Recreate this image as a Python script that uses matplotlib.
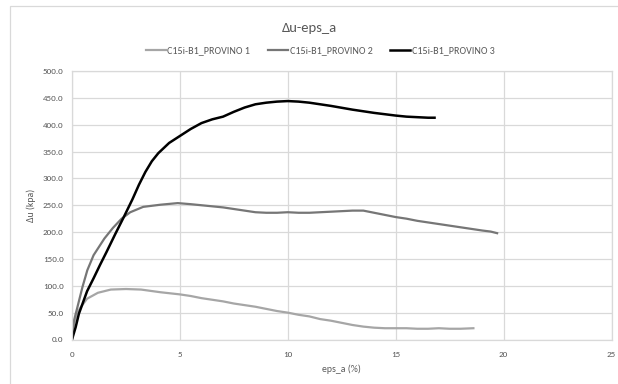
import matplotlib
matplotlib.use("Agg")
import matplotlib.pyplot as plt
from matplotlib.patches import Rectangle
from matplotlib.ticker import FormatStrFormatter

plt.rcParams['font.family'] = ['Carlito', 'Liberation Sans Narrow', 'Lato', 'DejaVu Sans']

# provino 1
eps_1 = [0, 0.06, 0.22, 0.4, 0.7, 1.2, 1.8, 2.5, 3.2, 4.1, 5.0,
         5.5, 6.0, 6.5, 7.0, 7.5, 8.0, 8.5, 9.0, 9.5, 10.0, 10.5, 11.0, 11.5,
         12.0, 12.5, 13.0, 13.5, 14.0, 14.5, 15.0, 15.5, 16.0, 16.5, 17.0, 17.5,
         18.0, 18.6]
du_1 = [0, 23, 48, 60, 76, 87, 93, 94, 93, 88, 84,
        81, 77, 74, 71, 67, 64, 61, 57, 53, 50, 46, 43, 38,
        35, 31, 27, 24, 22, 21, 21, 21, 20, 20, 21, 20,
        20, 21]

# provino 2
eps_2 = [0, 0.09, 0.25, 0.48, 0.71, 1.0, 1.5, 1.9, 2.3, 2.7, 3.3, 4.1, 4.9,
         5.5, 6.0, 6.5, 7.0, 7.5, 8.0, 8.5, 9.0, 9.5, 10.0, 10.5,
         11.0, 11.5, 12.0, 12.5, 13.0, 13.5, 14.0, 14.5, 15.0, 15.5, 16.0, 16.5,
         17.0, 17.5, 18.0, 18.5, 19.0, 19.4, 19.7]
du_2 = [0, 35, 60, 97, 129, 157, 188, 208, 225, 237, 247, 251, 254,
        252, 250, 248, 246, 243, 240, 237, 236, 236, 237, 236,
        236, 237, 238, 239, 240, 240, 236, 232, 228, 225, 221, 218,
        215, 212, 209, 206, 203, 201, 198]

# provino 3
eps_3 = [0, 0.17, 0.32, 0.7, 1.0, 1.3, 1.6, 2.0, 2.4, 2.8, 3.1, 3.4,
         3.7, 4.0, 4.5, 5.0, 5.5, 6.0, 6.5, 7.0, 7.5, 8.0, 8.5, 9.0, 9.5, 10.0,
         10.5, 11.0, 12.0, 13.0, 14.0, 15.0, 15.5, 16.0, 16.5, 16.8]
du_3 = [0, 23, 48, 90, 114, 139, 163, 196, 228, 261, 288, 312,
        332, 347, 366, 379, 392, 403, 410, 415, 424, 432, 438, 441, 443, 444,
        443, 441, 435, 428, 422, 417, 415, 414, 413, 413]

labels = ['C15i-B1_PROVINO 1', 'C15i-B1_PROVINO 2', 'C15i-B1_PROVINO 3']
colors = ['#A6A6A6', '#767676', '#000000']

fig = plt.figure(figsize=(6.18, 3.84), dpi=100)
ax = fig.add_axes([72 / 618, 1 - 339.5 / 384, 539.5 / 618, 268.5 / 384])

ax.plot(eps_1, du_1, color=colors[0], lw=1.6, label=labels[0])
ax.plot(eps_2, du_2, color=colors[1], lw=1.6, label=labels[1])
ax.plot(eps_3, du_3, color=colors[2], lw=1.8, label=labels[2])

ax.set_xlim(0, 25)
ax.set_ylim(0, 500)
ax.set_xticks([0, 5, 10, 15, 20, 25])
ax.set_yticks(range(0, 501, 50))
ax.yaxis.set_major_formatter(FormatStrFormatter('%.1f'))
ax.tick_params(length=0, labelsize=6.5, labelcolor='#595959')
ax.tick_params(axis='y', pad=6)
ax.tick_params(axis='x', pad=8)
ax.grid(color='#D9D9D9', lw=0.9)
ax.set_axisbelow(True)
for s in ax.spines.values():
    s.set_color('#D9D9D9')
    s.set_linewidth(0.9)

ax.set_xlabel('eps_a (%)', fontsize=7, color='#595959', labelpad=5)
ax.set_ylabel('Δu (kpa)', fontsize=7, color='#595959', labelpad=5)

fig.text(0.5, 1 - 28 / 384, 'Δu-eps_a', ha='center', va='center',
         fontsize=10.5, color='#595959')
fig.legend(loc='center', bbox_to_anchor=(0.518, 1 - 51 / 384), ncol=3,
           frameon=False, fontsize=7.2, handlelength=2.0, handletextpad=0.15,
           columnspacing=1.8, labelcolor='#595959')

# chart area border
fig.add_artist(Rectangle((10 / 618, -0.1), 1.2, 1 - 6 / 384 + 0.1,
                         transform=fig.transFigure, fill=False,
                         ec='#D9D9D9', lw=0.9))

fig.savefig('out.png', dpi=100)
